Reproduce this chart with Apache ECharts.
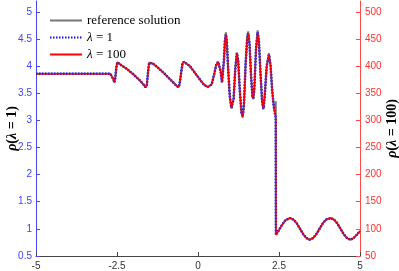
<!DOCTYPE html>
<html><head><meta charset="utf-8">
<script src="https://cdn.jsdelivr.net/npm/echarts@6/dist/echarts.min.js"></script>
<style>html,body{margin:0;padding:0;background:#fff}#c{width:399px;height:271px}</style>
</head><body><div id="c"></div>
<script>
const xs = [-5, -2.7, -2.64, -2.6, -2.58, -2.55, -2.52, -2.49, -2.44, -2.35, -2.2, -2.0, -1.8, -1.68, -1.62, -1.58, -1.54, -1.51, -1.47, -1.4, -1.25, -1.05, -0.85, -0.7, -0.61, -0.57, -0.52, -0.48, -0.44, -0.38, -0.25, -0.1, 0.05, 0.18, 0.3, 0.36, 0.42, 0.5, 0.56, 0.62, 0.66, 0.7, 0.74, 0.77, 0.8, 0.83, 0.86, 0.89, 0.93, 0.98, 1.03, 1.06, 1.1, 1.15, 1.2, 1.24, 1.29, 1.34, 1.38, 1.42, 1.47, 1.52, 1.55, 1.59, 1.64, 1.68, 1.71, 1.74, 1.79, 1.84, 1.88, 1.93, 1.98, 2.02, 2.06, 2.12, 2.19, 2.24, 2.29, 2.34, 2.38, 2.4, 2.405, 2.5, 2.6, 2.7, 2.84, 2.95, 3.05, 3.15, 3.25, 3.35, 3.44, 3.55, 3.65, 3.75, 3.85, 3.95, 4.1, 4.2, 4.3, 4.4, 4.5, 4.6, 4.71, 4.8, 4.9, 5.0];
const rhoRef = [3.857, 3.857, 3.84, 3.74, 3.70, 3.80, 3.98, 4.07, 4.06, 4.01, 3.95, 3.85, 3.74, 3.66, 3.61, 3.65, 3.90, 4.06, 4.08, 4.05, 3.98, 3.87, 3.75, 3.66, 3.61, 3.66, 3.88, 4.04, 4.08, 4.07, 4.0, 3.88, 3.76, 3.66, 3.615, 3.61, 3.66, 3.85, 4.02, 4.08, 4.06, 3.90, 3.70, 3.72, 4.10, 4.47, 4.62, 4.47, 3.95, 3.45, 3.22, 3.19, 3.40, 3.95, 4.25, 4.10, 3.55, 3.14, 3.05, 3.30, 4.05, 4.55, 4.64, 4.42, 3.80, 3.43, 3.39, 3.60, 4.32, 4.66, 4.47, 3.85, 3.33, 3.20, 3.45, 4.00, 4.24, 4.02, 3.55, 3.25, 3.15, 3.35, 0.89, 0.98, 1.08, 1.16, 1.20, 1.17, 1.10, 1.0, 0.90, 0.83, 0.80, 0.83, 0.90, 1.0, 1.10, 1.17, 1.20, 1.17, 1.10, 1.0, 0.90, 0.83, 0.80, 0.83, 0.89, 0.96];
const rhoL1 = [3.857, 3.857, 3.84, 3.74, 3.70, 3.80, 3.98, 4.07, 4.06, 4.01, 3.95, 3.85, 3.74, 3.66, 3.61, 3.65, 3.90, 4.06, 4.08, 4.05, 3.98, 3.87, 3.75, 3.66, 3.61, 3.66, 3.88, 4.04, 4.08, 4.07, 4.0, 3.88, 3.76, 3.66, 3.615, 3.61, 3.66, 3.85, 4.02, 4.08, 4.06, 3.90, 3.70, 3.72, 4.10, 4.45, 4.58, 4.45, 3.95, 3.45, 3.23, 3.21, 3.40, 3.95, 4.24, 4.10, 3.55, 3.15, 3.07, 3.30, 4.05, 4.52, 4.60, 4.40, 3.80, 3.45, 3.41, 3.60, 4.30, 4.62, 4.45, 3.85, 3.35, 3.22, 3.45, 4.00, 4.21, 4.00, 3.55, 3.25, 3.10, 3.05, 0.89, 0.98, 1.08, 1.16, 1.20, 1.17, 1.10, 1.0, 0.90, 0.83, 0.80, 0.83, 0.90, 1.0, 1.10, 1.17, 1.20, 1.17, 1.10, 1.0, 0.90, 0.83, 0.80, 0.83, 0.89, 0.96];
const rhoL100 = [385.7, 385.7, 384, 374, 370, 380, 398, 407, 406, 401, 395, 385, 374, 366, 361, 365, 390, 406, 408, 405, 398, 387, 375, 366, 361, 366, 388, 404, 408, 407, 400, 388, 376, 366, 361.5, 361, 366, 385, 402, 408, 406, 390, 370, 372, 410, 445, 458, 445, 395, 345, 323, 321, 340, 395, 424, 410, 355, 315, 307, 330, 405, 452, 460, 440, 380, 345, 341, 360, 430, 462, 445, 385, 335, 322, 345, 400, 421, 400, 355, 325, 310, 305, 89, 98, 108, 116, 120, 117, 110, 100, 90, 83, 80, 83, 90, 100, 110, 117, 120, 117, 110, 100, 90, 83, 80, 83, 89, 96];
const xTicks = [-5, -2.5, 0, 2.5, 5];

const pair = ys => xs.map((x, i) => [x, ys[i]]);
const chart = echarts.init(document.getElementById('c'), null, {renderer: 'canvas'});
const serif = 'Liberation Serif';
const sans = 'Liberation Sans';
const nameRich = {
  b: {fontFamily: serif, fontSize: 14, fontStyle: 'italic', fontWeight: 'bold', color: '#000'},
  p: {fontFamily: serif, fontSize: 14, fontWeight: 'bold', color: '#000'}
};
chart.setOption({
  animation: false,
  backgroundColor: '#fff',
  grid: {left: 36, right: 39, top: 1, bottom: 15, containLabel: false, outerBoundsMode: 'none'},
  legend: {
    orient: 'vertical', left: 44, top: 9, itemWidth: 32, itemHeight: 12, itemGap: 4,
    itemStyle: {opacity: 0},
    textStyle: {fontFamily: serif, fontSize: 13, color: '#000',
      rich: {i: {fontFamily: serif, fontSize: 13, fontStyle: 'italic', color: '#000'},
             n: {fontFamily: serif, fontSize: 13, color: '#000'}}},
    formatter: n => n.startsWith('λ') ? '{i|λ}{n|' + n.slice(1) + '}' : n,
    data: ['reference solution', 'λ = 1', 'λ = 100']
  },
  xAxis: {
    type: 'value', min: -5, max: 5, interval: 2.5,
    axisLine: {onZero: false, lineStyle: {color: '#444', width: 1}},
    axisTick: {inside: true, length: 4, lineStyle: {color: '#444'}},
    axisLabel: {color: '#333', fontFamily: sans, fontSize: 10, margin: 5,
      formatter: v => xTicks.includes(v) ? String(v) : ''},
    splitLine: {show: false}
  },
  yAxis: [{
    type: 'value', min: 0.5, max: 5.2, interval: 0.5, position: 'left',
    name: '{b|ρ}{p|(}{b|λ}{p| = 1)}', nameLocation: 'middle', nameRotate: 90, nameGap: 17,
    nameMoveOverlap: false,
    nameTextStyle: {rich: nameRich},
    axisLine: {show: true, onZero: false, lineStyle: {color: '#4646ff', width: 1}},
    axisTick: {show: true, inside: true, length: 4, lineStyle: {color: '#4646ff'}},
    axisLabel: {color: '#4040ff', fontFamily: sans, fontSize: 10, margin: 4, showMaxLabel: false},
    splitLine: {show: false}
  }, {
    type: 'value', min: 50, max: 520, interval: 50, position: 'right',
    name: '{b|ρ}{p|(}{b|λ}{p| = 100)}', nameLocation: 'middle', nameRotate: 90, nameGap: 25,
    nameMoveOverlap: false,
    nameTextStyle: {rich: nameRich},
    axisLine: {show: true, onZero: false, lineStyle: {color: '#ff4a4a', width: 1}},
    axisTick: {show: true, inside: true, length: 4, lineStyle: {color: '#ff4a4a'}},
    axisLabel: {color: '#ff3030', fontFamily: sans, fontSize: 10, margin: 5, showMaxLabel: false},
    splitLine: {show: false}
  }],
  series: [
    {name: 'reference solution', type: 'line', yAxisIndex: 0, data: pair(rhoRef), symbol: 'none',
     lineStyle: {color: '#777', width: 2}, itemStyle: {color: '#777'}, z: 1},
    {name: 'λ = 1', type: 'line', yAxisIndex: 0, data: pair(rhoL1), symbol: 'none',
     lineStyle: {color: '#1010ff', width: 2.5, type: [1.5, 1.5]}, itemStyle: {color: '#1010ff'}, z: 2},
    {name: 'λ = 100', type: 'line', yAxisIndex: 1, data: pair(rhoL100), symbol: 'none',
     lineStyle: {color: '#ff0000', width: 1.2}, itemStyle: {color: '#ff0000'}, z: 3}
  ]
});
</script></body></html>
